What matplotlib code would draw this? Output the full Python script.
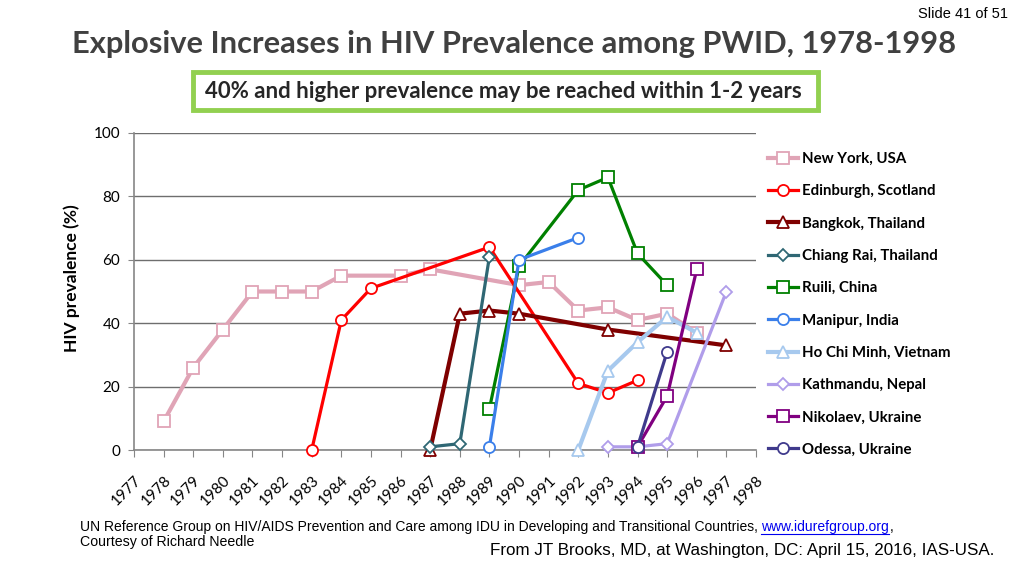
import matplotlib
matplotlib.use("Agg")
import matplotlib.pyplot as plt
from matplotlib.patches import Rectangle
from matplotlib.lines import Line2D

years = list(range(1977, 1999))
year_labels = [str(y) for y in years]

new_york_years = [1978, 1979, 1980, 1981, 1982, 1983, 1984, 1986, 1987, 1990, 1991, 1992, 1993, 1994, 1995, 1996]
new_york = [9, 26, 38, 50, 50, 50, 55, 55, 57, 52, 53, 44, 45, 41, 43, 37]
edinburgh_years = [1983, 1984, 1985, 1989, 1992, 1993, 1994]
edinburgh = [0, 41, 51, 64, 21, 18, 22]
bangkok_years = [1987, 1988, 1989, 1990, 1993, 1997]
bangkok = [0, 43, 44, 43, 38, 33]
chiang_rai_years = [1987, 1988, 1989]
chiang_rai = [1, 2, 61]
ruili_years = [1989, 1990, 1992, 1993, 1994, 1995]
ruili = [13, 58, 82, 86, 62, 52]
manipur_years = [1989, 1990, 1992]
manipur = [1, 60, 67]
ho_chi_minh_years = [1992, 1993, 1994, 1995, 1996]
ho_chi_minh = [0, 25, 34, 42, 37]
kathmandu_years = [1993, 1994, 1995, 1997]
kathmandu = [1, 1, 2, 50]
nikolaev_years = [1994, 1995, 1996]
nikolaev = [1, 17, 57]
odessa_years = [1994, 1995]
odessa = [1, 31]

series = [
    ("New York, USA", new_york_years, new_york, "#E0A4B6", "s", 3.0),
    ("Edinburgh, Scotland", edinburgh_years, edinburgh, "#FF0000", "o", 2.3),
    ("Bangkok, Thailand", bangkok_years, bangkok, "#7F0000", "^", 3.0),
    ("Chiang Rai, Thailand", chiang_rai_years, chiang_rai, "#2F6774", "D", 2.3),
    ("Ruili, China", ruili_years, ruili, "#008000", "s", 2.3),
    ("Manipur, India", manipur_years, manipur, "#3A7FEA", "o", 2.3),
    ("Ho Chi Minh, Vietnam", ho_chi_minh_years, ho_chi_minh, "#A7C9EE", "^", 3.0),
    ("Kathmandu, Nepal", kathmandu_years, kathmandu, "#B09DEA", "D", 2.3),
    ("Nikolaev, Ukraine", nikolaev_years, nikolaev, "#800080", "s", 2.3),
    ("Odessa, Ukraine", odessa_years, odessa, "#3F3A8C", "o", 2.3),
]

W, H = 1024, 576
fig = plt.figure(figsize=(W / 100, H / 100), dpi=100)
fig.patch.set_facecolor("white")
renderer = fig.canvas.get_renderer()


def fit_text(x0, x1, y, s, size, **kw):
    """Place text starting at pixel x0 and scale its size so it ends at x1."""
    t = fig.text(x0 / W, 1 - y / H, s, ha="left", va="center", fontsize=size, **kw)
    w = t.get_window_extent(renderer).width
    t.set_fontsize(size * (x1 - x0) / w)
    return t


ax = fig.add_axes([134 / W, 1 - 450 / H, (756 - 134) / W, (450 - 133) / H])
ax.set_xlim(1977, 1998)
ax.set_ylim(0, 100)

for name, xs, ys, color, marker, lw in series:
    ms = {"s": 8, "o": 8, "^": 8.5, "D": 6.5}[marker]
    ax.plot(xs, ys, color=color, lw=lw, marker=marker, markersize=ms,
            markerfacecolor="white", markeredgecolor=color, markeredgewidth=1.3,
            label=name, clip_on=False, zorder=3)

ax.set_yticks([0, 20, 40, 60, 80, 100])
ax.yaxis.grid(True, color="#6E6E6E", lw=1.0)
ax.set_axisbelow(True)
ax.set_xticks(years)
ax.set_xticklabels(year_labels, rotation=45, ha="right", va="top",
                   rotation_mode="anchor", fontsize=11, family="Lato")
ax.tick_params(axis="x", length=5, color="#868686", pad=12)
ax.tick_params(axis="y", length=4, color="#868686", labelsize=11, pad=6)
for lab in ax.get_yticklabels():
    lab.set_family("Lato")
for s in ["top", "right"]:
    ax.spines[s].set_visible(False)
for s in ["left", "bottom"]:
    ax.spines[s].set_color("#868686")
    ax.spines[s].set_linewidth(1.2)

ax.set_ylabel("HIV prevalence (%)", fontsize=12.5, fontweight="bold", family="Lato")
ax.yaxis.set_label_coords((80 - 134) / (756 - 134), (450 - 278) / (450 - 133))

fig.legend(loc="upper left", bbox_to_anchor=(762 / W, 1 - 146 / H), frameon=False,
           prop={"family": "Lato", "weight": "bold", "size": 10.8},
           handlelength=2.0, handletextpad=0.3, labelspacing=1.22, borderaxespad=0)

narrow = ["Liberation Sans", "DejaVu Sans"]

fit_text(918, 1008, 14, "Slide 41 of 51", 10, family=narrow, color="#000000")
fit_text(72, 955, 44, "Explosive Increases in HIV Prevalence among PWID, 1978-1998", 22,
         fontweight="bold", family="Lato", color="#404040")

fig.add_artist(Rectangle((193 / W, 1 - 110 / H), (818 - 193) / W, (110 - 72) / H,
                         transform=fig.transFigure, facecolor="white",
                         edgecolor="#92D050", lw=3.5))
fit_text(205, 803, 91, "40% and higher prevalence may be reached within 1-2 years", 15,
         fontweight="bold", family="Lato", color="#262626")

un = fit_text(80, 755, 527,
              "UN Reference Group on HIV/AIDS Prevention and Care among IDU in Developing and Transitional Countries,",
              8.5, family=narrow)
fs = un.get_fontsize()
url = fig.text(761 / W, 1 - 527 / H, "www.idurefgroup.org", ha="left", va="center",
               fontsize=fs, family=narrow, color="#0000EE")
uw = url.get_window_extent(renderer).width
fig.add_artist(Line2D([761 / W, (761 + uw) / W], [1 - 533.5 / H, 1 - 533.5 / H],
                      transform=fig.transFigure, color="#0000EE", lw=0.8))
fig.text((762 + uw) / W, 1 - 527 / H, ",", ha="left", va="center", fontsize=fs, family=narrow)
fit_text(80, 253, 542, "Courtesy of Richard Needle", 8.5, family=narrow)
fit_text(490, 995, 550, "From JT Brooks, MD, at Washington, DC: April 15, 2016, IAS-USA.", 11.5,
         family=narrow)

fig.savefig("out.png", dpi=100)
